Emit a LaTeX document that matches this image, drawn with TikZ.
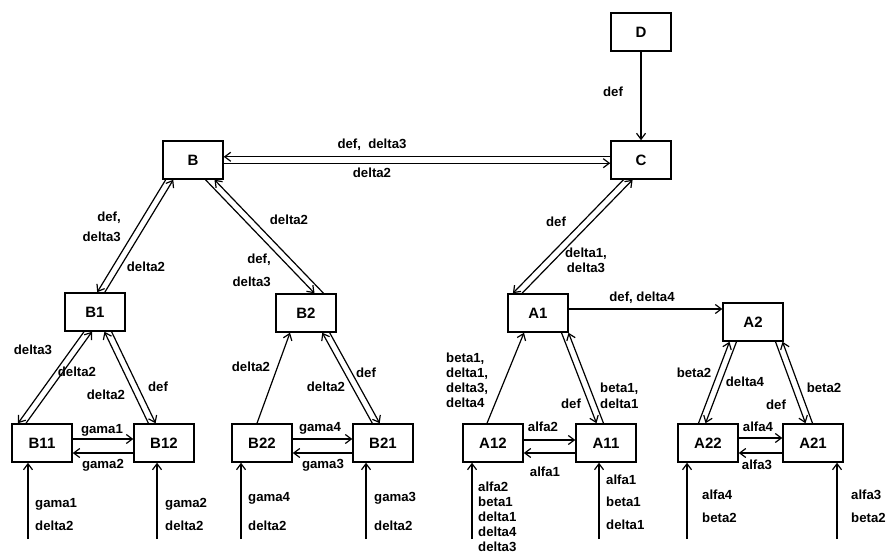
\documentclass[tikz,border=0pt]{standalone}
\usepackage{fontspec}
\setmainfont{Liberation Sans}
\usetikzlibrary{arrows.meta}
% #1 top anchor, #2 its x offset, #3 bottom anchor, #4 its x offset, #5 half gap, #6 left style, #7 right style
\newcommand\twoline[7]{%
  \draw[#6] ([xshift={(#2)*1pt-(#5)*1pt}]#1) -- ([xshift={(#4)*1pt-(#5)*1pt}]#3);
  \draw[#7] ([xshift={(#2)*1pt+(#5)*1pt}]#1) -- ([xshift={(#4)*1pt+(#5)*1pt}]#3);}
\begin{document}
\begin{tikzpicture}[x=1pt,y=-1pt,
  >={Straight Barb[length=6pt,width=9pt]},
  box/.style={draw,line width=1.5pt,minimum width=60pt,minimum height=38pt,inner sep=0pt,
    font=\bfseries\fontsize{15}{17}\selectfont},
  conn/.style={line width=1.2pt},
  lab/.style={inner sep=0pt,font=\bfseries\fontsize{13.2}{15}\selectfont},
  inlab/.style={lab,anchor=west,align=left}]
\useasboundingbox (0,0) rectangle (889,553);
% boxes
\node[box] (D) at (641,32) {D};
\node[box] (C) at (641,160) {C};
\node[box] (B) at (193,160) {B};
\node[box] (B1) at (95,312) {B1};
\node[box] (B2) at (306,313) {B2};
\node[box] (B11) at (42,443) {B11};
\node[box] (B12) at (164,443) {B12};
\node[box] (B22) at (262,443) {B22};
\node[box] (B21) at (383,443) {B21};
\node[box] (A1) at (538,313) {A1};
\node[box] (A12) at (493,443) {A12};
\node[box] (A11) at (606,443) {A11};
\node[box] (A2) at (753,322) {A2};
\node[box] (A22) at (708,443) {A22};
\node[box] (A21) at (813,443) {A21};
% single connectors
\draw[conn,->] (D.south) -- (C.north);
\draw[conn,->] ([xshift=-5pt]B22.north) -- ([xshift=-16pt]B2.south);
\draw[conn,->] ([xshift=-6pt]A12.north) -- ([xshift=-14pt]A1.south);
\coordinate (ya) at (0,309);
\draw[conn,->] (A1.east |- ya) -- (A2.west |- ya);
% B <-> C
\draw[conn,<-] ([yshift=3.2pt]B.east) -- ([yshift=3.2pt]C.west);
\draw[conn,->] ([yshift=-3.2pt]B.east) -- ([yshift=-3.2pt]C.west);
% double diagonals
\twoline{B.south}{-23.5}{B1.north}{6}{3.8}{conn,->}{conn,<-}
\twoline{B.south}{17}{B2.north}{13}{4.5}{conn,->}{conn,<-}
\twoline{B1.south}{-7}{B11.north}{-20}{4}{conn,->}{conn,<-}
\twoline{B1.south}{13}{B12.north}{-12}{3.6}{conn,<-}{conn,->}
\twoline{B2.south}{20}{B21.north}{-7}{3.7}{conn,<-}{conn,->}
\twoline{C.south}{-13}{A1.north}{-20.5}{4.6}{conn,->}{conn,<-}
\twoline{A1.south}{27}{A11.north}{-6}{3.5}{conn,->}{conn,<-}
\twoline{A2.south}{-20}{A22.north}{-6}{3.5}{conn,<-}{conn,->}
\twoline{A2.south}{26}{A21.north}{-4}{3.5}{conn,->}{conn,<-}
% horizontal pairs
\draw[conn,->] ([yshift=4pt]B11.east) -- ([yshift=4pt]B12.west);
\draw[conn,<-] ([yshift=-10pt]B11.east) -- ([yshift=-10pt]B12.west);
\draw[conn,->] ([yshift=4pt]B22.east) -- ([yshift=4pt]B21.west);
\draw[conn,<-] ([yshift=-10pt]B22.east) -- ([yshift=-10pt]B21.west);
\draw[conn,->] ([yshift=3pt]A12.east) -- ([yshift=3pt]A11.west);
\draw[conn,<-] ([yshift=-10pt]A12.east) -- ([yshift=-10pt]A11.west);
\draw[conn,->] ([yshift=5pt]A22.east) -- ([yshift=5pt]A21.west);
\draw[conn,<-] ([yshift=-10pt]A22.east) -- ([yshift=-10pt]A21.west);
% input arrows
\coordinate (iB11) at (28,539);
\coordinate (iB12) at (157,539);
\coordinate (iB22) at (241,539);
\coordinate (iB21) at (366,539);
\coordinate (iA12) at (472,539);
\coordinate (iA11) at (599,539);
\coordinate (iA22) at (687,539);
\coordinate (iA21) at (837,539);
\draw[conn,->] (iB11) -- (iB11 |- B11.south);
\draw[conn,->] (iB12) -- (iB12 |- B12.south);
\draw[conn,->] (iB22) -- (iB22 |- B22.south);
\draw[conn,->] (iB21) -- (iB21 |- B21.south);
\draw[conn,->] (iA12) -- (iA12 |- A12.south);
\draw[conn,->] (iA11) -- (iA11 |- A11.south);
\draw[conn,->] (iA22) -- (iA22 |- A22.south);
\draw[conn,->] (iA21) -- (iA21 |- A21.south);
% connector labels
\node[lab] (lDC) at (613,92) {def};
\node[lab] (lBC1) at (372,145) {def,\ \ delta3};
\node[lab] (lBC2) at (372,173) {delta2};
\node[lab,anchor=east,align=right,font=\bfseries\fontsize{13.2}{20}\selectfont] (lBB1a) at (121,227) {def,\\delta3};
\node[lab] (lBB1b) at (146,267) {delta2};
\node[lab] (lBB2a) at (289,220) {delta2};
\node[lab,anchor=east,align=right,font=\bfseries\fontsize{13.2}{23}\selectfont] (lBB2b) at (271,270) {def,\\delta3};
\node[lab] (lB1B11a) at (33,350) {delta3};
\node[lab] (lB1B11b) at (77,372) {delta2};
\node[lab] (lB1B12a) at (106,395) {delta2};
\node[lab] (lB1B12b) at (158,387) {def};
\node[lab] (lB22B2) at (251,367) {delta2};
\node[lab] (lB2B21a) at (366,373) {def};
\node[lab] (lB2B21b) at (326,387) {delta2};
\node[lab] (lg1) at (102,430) {gama1};
\node[lab] (lg2) at (103,465) {gama2};
\node[lab] (lg4) at (320,428) {gama4};
\node[lab] (lg3) at (323,465) {gama3};
\node[lab] (lCA1a) at (556,222) {def};
\node[lab,align=center] (lCA1b) at (586,260) {delta1,\\delta3};
\node[lab] (lA1A2) at (642,298) {def, delta4};
\node[lab,anchor=west,align=left] (lA12A1) at (446,380) {beta1,\\delta1,\\delta3,\\delta4};
\node[lab] (lA1A11a) at (571,404) {def};
\node[lab,anchor=west,align=left,font=\bfseries\fontsize{13.2}{16}\selectfont] (lA1A11b) at (600,396) {beta1,\\delta1};
\node[lab] (la2) at (543,427) {alfa2};
\node[lab] (la1) at (545,472) {alfa1};
\node[lab] (lA2A22a) at (694,373) {beta2};
\node[lab] (lA2A22b) at (745,382) {delta4};
\node[lab] (lA2A21a) at (776,405) {def};
\node[lab] (lA2A21b) at (824,388) {beta2};
\node[lab] (la4) at (758,427) {alfa4};
\node[lab] (la3) at (757,465) {alfa3};
% input labels
\node[inlab,font=\bfseries\fontsize{13.2}{23}\selectfont] (nB11) at (35,514.5) {gama1\\delta2};
\node[inlab,font=\bfseries\fontsize{13.2}{23}\selectfont] (nB12) at (165,514.5) {gama2\\delta2};
\node[inlab,font=\bfseries\fontsize{13.2}{29}\selectfont] (nB22) at (248,511.5) {gama4\\delta2};
\node[inlab,font=\bfseries\fontsize{13.2}{29}\selectfont] (nB21) at (374,511.5) {gama3\\delta2};
\node[inlab,font=\bfseries\fontsize{13.2}{15}\selectfont] (nA12) at (478,517) {alfa2\\beta1\\delta1\\delta4\\delta3};
\node[inlab,font=\bfseries\fontsize{13.2}{22.5}\selectfont] (nA11) at (606,502) {alfa1\\beta1\\delta1};
\node[inlab,font=\bfseries\fontsize{13.2}{23}\selectfont] (nA22) at (702,506.5) {alfa4\\beta2};
\node[inlab,font=\bfseries\fontsize{13.2}{23}\selectfont] (nA21) at (851,506.5) {alfa3\\beta2};
\end{tikzpicture}
\end{document}
